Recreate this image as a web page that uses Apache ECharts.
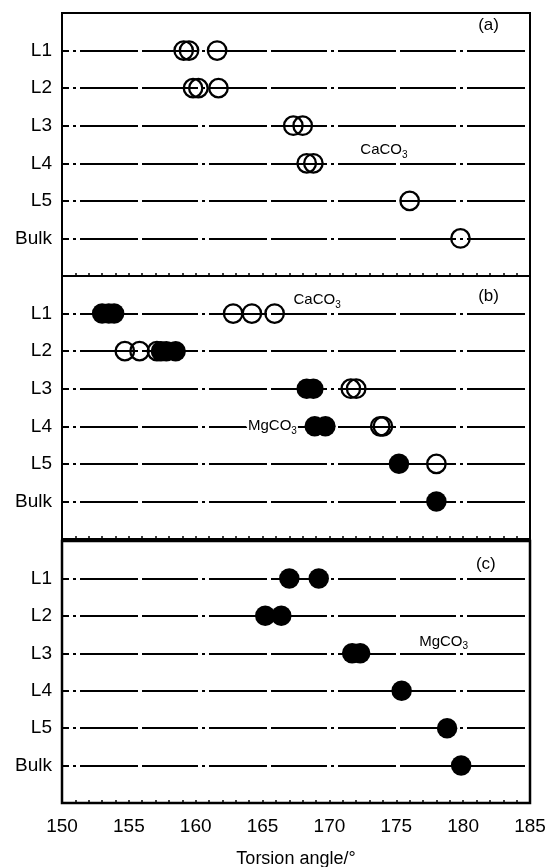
<!DOCTYPE html>
<html>
<head>
<meta charset="utf-8">
<script src="https://cdn.jsdelivr.net/npm/echarts@6/dist/echarts.min.js"></script>
<style>
  html, body { margin: 0; padding: 0; background: #fff; }
  #chart { width: 554px; height: 867px; }
</style>
</head>
<body>
<div id="chart"></div>
<script>
// row names, top to bottom
var rows = ['L1', 'L2', 'L3', 'L4', 'L5', 'Bulk'];

// torsion angles per row (deg)
// (a) CaCO3 - open circles
var caA = [[159.1, 159.5, 161.6], [159.8, 160.2, 161.7], [167.3, 168.0], [168.3, 168.8], [176.0], [179.8]];
// (b) CaCO3 - open circles
var caB = [[162.8, 164.2, 165.9], [154.7, 155.8, 157.1], [171.6, 172.0], [173.8, 174.0], [178.0], []];
// (b) MgCO3 - filled circles
var mgB = [[153.0, 153.5, 153.9], [157.4, 157.8, 158.5], [168.3, 168.8], [168.9, 169.7], [175.2], [178.0]];
// (c) MgCO3 - filled circles
var mgC = [[167.0, 169.2], [165.2, 166.4], [171.7, 172.3], [175.4], [178.8], [179.85]];

// text notes: panel, label, subscript, angle, row position
var noteText  = ['CaCO', 'CaCO', 'MgCO', 'MgCO'];
var noteSub   = ['3', '3', '3', '3'];
var notePanel = [0, 1, 1, 2];
var noteX     = [172.2, 167.2, 163.8, 176.6];
var noteY     = [3.65, 0.64, 4, 2.69];
var tags      = ['(a)', '(b)', '(c)'];
var tagX      = [181.9, 181.9, 181.7];
var tagY      = [0.32, 0.55, 0.61];

var FONT = 'Liberation Sans, Arial, Helvetica, sans-serif';

function pts(list) {
  var out = [];
  list.forEach(function (vals, i) {
    vals.forEach(function (v) { out.push([v, i + 1]); });
  });
  return out;
}

var grids = [
  { left: 62, right: 24, top: 13, height: 263, borderWidth: 2 },
  { left: 62, right: 24, top: 276, height: 263, borderWidth: 2 },
  { left: 62, right: 24, top: 541, height: 262, borderWidth: 2.5 }
].map(function (g) {
  g.show = true;
  g.borderColor = '#000';
  g.backgroundColor = 'rgba(0,0,0,0)';
  g.outerBoundsMode = 'none';
  g.containLabel = false;
  return g;
});

var xAxes = [0, 1, 2].map(function (i) {
  return {
    type: 'value',
    gridIndex: i,
    position: 'bottom',
    min: 150,
    max: 185,
    interval: 5,
    axisLine: { show: false, onZero: false },
    axisTick: { show: true, inside: true, length: 3, lineStyle: { color: '#000', width: 1.5 } },
    minorTick: { show: true, splitNumber: 5, length: 3, lineStyle: { color: '#000', width: 1.5 } },
    splitLine: { show: false },
    axisLabel: { show: i === 2, color: '#000', fontSize: 19, fontFamily: FONT, margin: 14 },
    name: i === 2 ? 'Torsion angle/°' : '',
    nameLocation: 'middle',
    nameGap: 47,
    nameTextStyle: { color: '#000', fontSize: 18, fontFamily: FONT }
  };
});

var yAxes = [0, 1, 2].map(function (i) {
  return {
    type: 'value',
    gridIndex: i,
    min: 0,
    max: 7,
    interval: 1,
    inverse: true,
    axisLine: { show: false },
    axisTick: { show: false },
    splitLine: {
      show: true,
      showMinLine: false,
      showMaxLine: false,
      lineStyle: { color: '#000', width: 1.8, type: [58, 4, 56, 4, 3, 4], dashOffset: 111 }
    },
    axisLabel: {
      color: '#000', fontSize: 19, fontFamily: FONT, margin: 10,
      formatter: function (v) { return rows[v - 1] || ''; }
    }
  };
});

function openSeries(list, k) {
  return {
    type: 'scatter', xAxisIndex: k, yAxisIndex: k, silent: true,
    symbol: 'circle', symbolSize: 18.5,
    itemStyle: { color: 'rgba(255,255,255,0)', borderColor: '#000', borderWidth: 2.3, opacity: 1 },
    data: pts(list)
  };
}
function filledSeries(list, k) {
  return {
    type: 'scatter', xAxisIndex: k, yAxisIndex: k, silent: true,
    symbol: 'circle', symbolSize: 20.5,
    itemStyle: { color: '#000', opacity: 1 },
    data: pts(list)
  };
}

var series = [
  openSeries(caA, 0),
  openSeries(caB, 1),
  filledSeries(mgB, 1),
  filledSeries(mgC, 2)
];

// text notes
noteText.forEach(function (t, i) {
  var k = notePanel[i];
  series.push({
    type: 'scatter', xAxisIndex: k, yAxisIndex: k, silent: true, z: 5,
    symbolSize: 1, itemStyle: { color: '#fff', opacity: 1 },
    data: [[noteX[i], noteY[i]]],
    label: {
      show: true, position: 'right', distance: 0, opacity: 1,
      backgroundColor: '#fff', padding: [0, 1],
      formatter: '{a|' + t + '}{b|' + noteSub[i] + '}',
      rich: {
        a: { fontSize: 15, fontFamily: FONT, color: '#000', lineHeight: 20 },
        b: { fontSize: 10, fontFamily: FONT, color: '#000', lineHeight: 10, verticalAlign: 'bottom' }
      }
    }
  });
});

tags.forEach(function (t, k) {
  series.push({
    type: 'scatter', xAxisIndex: k, yAxisIndex: k, silent: true,
    symbolSize: 1, itemStyle: { color: '#fff', opacity: 1 },
    data: [[tagX[k], tagY[k]]],
    label: {
      show: true, position: 'inside', formatter: t, color: '#000', opacity: 1,
      textBorderWidth: 0,
      fontSize: 17, fontFamily: FONT
    }
  });
});

var chart = echarts.init(document.getElementById('chart'));
chart.setOption({
  animation: false,
  backgroundColor: '#fff',
  grid: grids,
  xAxis: xAxes,
  yAxis: yAxes,
  series: series
});
</script>
</body>
</html>
